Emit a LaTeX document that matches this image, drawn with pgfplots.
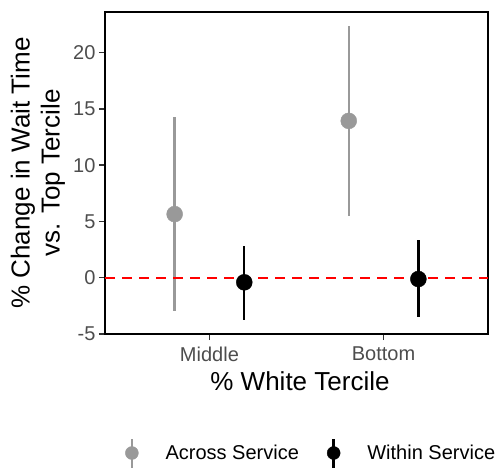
\documentclass[border=0pt]{standalone}
\usepackage{pgfplots}
\pgfplotsset{compat=1.18}
\usepackage{fontspec}
\setmainfont{Liberation Sans}
\definecolor{accgray}{RGB}{153,153,153}
\definecolor{tickgray}{RGB}{77,77,77}
\definecolor{tickline}{RGB}{51,51,51}
\pgfplotstableread{
x y ep em
0.8 5.65 8.58 8.58
1.8 13.93 8.43 8.46
}\across
\pgfplotstableread{
x y ep em
1.2 -0.41 3.22 3.32
2.2 -0.12 3.47 3.40
}\within
\begin{document}
\begin{tikzpicture}
\useasboundingbox (-105bp,-134bp) rectangle (391bp,334bp);
\begin{axis}[
  at={(0,0)}, anchor=south west,
  scale only axis, width=383bp, height=322bp,
  xmin=0.4, xmax=2.6, ymin=-5, ymax=23.6,
  xtick={1,2}, xticklabels={Middle,Bottom},
  ytick={-5,0,5,10,15,20},
  xtick pos=bottom, ytick pos=left,
  tick align=outside, major tick length=6bp,
  tick style={tickline, line width=1.4bp},
  axis line style={black, line width=1.8bp},
  /pgf/number format/assume math mode=true,
  ticklabel style={font=\fontsize{20bp}{24bp}\selectfont, text=tickgray},
  xticklabel style={yshift=-3bp},
  legend columns=2,
  legend style={draw=none, fill=none, inner sep=0pt, outer sep=0pt,
    at={(axis description cs:0.0527,-0.3696)}, anchor=west,
    font=\fontsize{20bp}{24bp}\selectfont,
    nodes={inner sep=0pt},
    /tikz/every odd column/.append style={column sep=27bp},
    /tikz/every even column/.append style={column sep=28bp}},
  clip=false,
]
\addplot[accgray, only marks, mark=*, mark size=8bp,
  error bars/.cd, y dir=both, y explicit, error mark=none,
  error bar style={accgray, line width=2.4bp},
  /pgfplots/.cd,
  legend image code/.code={\draw[accgray, line width=2.4bp] (0bp,-14.5bp) -- (0bp,14.5bp); \fill[accgray] (0bp,0bp) circle (6.5bp);}]
  table[x=x, y=y, y error plus=ep, y error minus=em] {\across};
\addlegendentry{Across Service}
\addplot[black, only marks, mark=*, mark size=8bp,
  error bars/.cd, y dir=both, y explicit, error mark=none,
  error bar style={black, line width=2.4bp},
  /pgfplots/.cd,
  legend image code/.code={\draw[black, line width=2.4bp] (0bp,-14.5bp) -- (0bp,14.5bp); \fill[black] (0bp,0bp) circle (6.5bp);}]
  table[x=x, y=y, y error plus=ep, y error minus=em] {\within};
\addlegendentry{Within Service}
\addplot[red, dash pattern=on 10bp off 7bp, line width=2.2bp, forget plot] coordinates {(0.4,0) (2.6,0)};
\end{axis}
\node[anchor=base, font=\fontsize{26bp}{30bp}\selectfont] at (195bp,-56bp) {\% White Tercile};
\node[rotate=90, align=center, font=\fontsize{26bp}{30bp}\selectfont] at (-67bp,161bp) {\% Change in Wait Time\\vs. Top Tercile};
\end{tikzpicture}
\end{document}
